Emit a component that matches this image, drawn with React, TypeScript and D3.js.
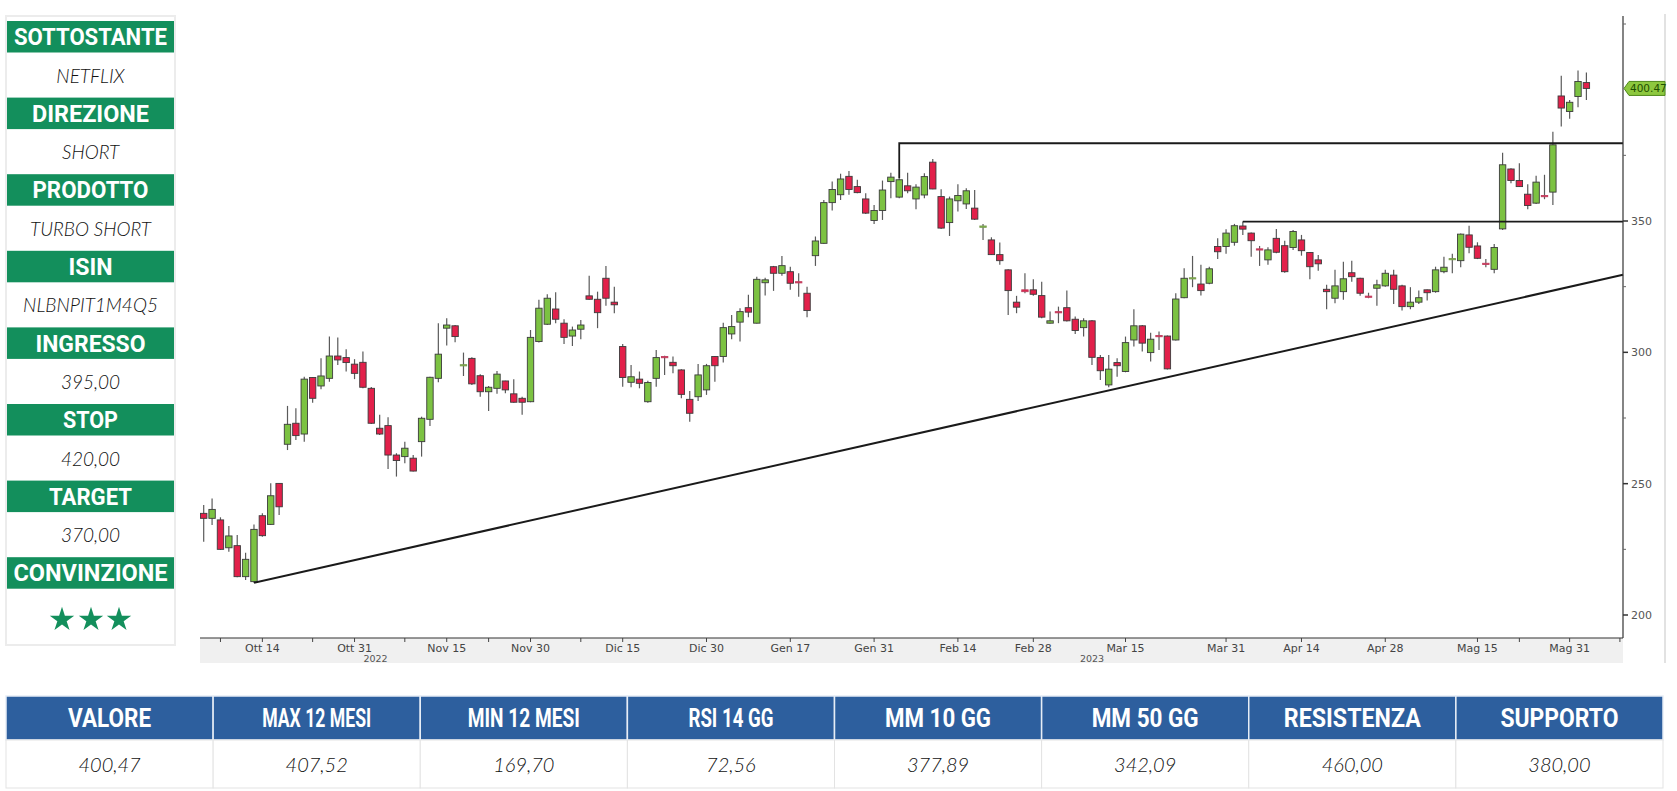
import React from 'react';
import * as d3 from 'd3';

// ---------- DATA ----------
const OPEN = [238.7,236.8,236.2,225.6,226.4,214.6,212.7,237.8,234.5,250.1,265.0,273.0,268.9,290.4,287.2,290.1,298.6,298.0,295.5,296.2,286.3,271.1,272.1,260.9,260.3,259.7,266.0,274.5,290.1,309.2,310.1,295.0,297.7,291.1,285.0,286.3,289.1,284.2,282.5,281.2,304.1,310.7,316.5,311.1,306.2,308.8,321.5,320.2,328.2,319.1,302.2,288.6,289.8,281.2,290.1,298.4,296.2,293.3,282.1,283.1,285.7,298.4,298.4,307.0,311.5,317.0,311.1,326.5,332.6,330.1,330.7,326.9,322.5,336.8,341.5,357.0,360.0,367.0,363.1,358.4,350.2,354.0,365.0,359.1,363.4,358.4,359.9,372.4,359.3,349.4,357.7,356.5,354.9,347.6,342.8,337.2,331.4,319.1,323.8,323.8,321.6,311.1,315.5,317.0,312.6,309.4,312.0,298.0,287.6,296.1,292.7,304.7,310.1,299.9,306.4,306.2,304.7,320.8,328.0,326.0,326.3,340.3,340.3,341.9,348.1,345.4,339.4,335.2,343.4,340.6,339.9,342.8,338.0,335.2,324.0,320.6,323.1,330.3,328.2,321.4,324.4,325.3,329.4,325.3,317.4,319.1,323.8,323.1,330.7,335.5,334.9,344.7,340.5,333.9,331.6,347.0,369.8,365.4,360.2,356.8,359.7,361.0,397.6,391.7,397.4,402.7];
const HIGH = [241.9,244.4,237.2,233.9,230.5,223.7,234.5,238.7,250.2,250.2,279.6,278.7,290.7,290.5,297.7,306.0,305.6,301.2,297.4,300.3,286.8,276.2,275.3,261.6,266.0,260.9,275.5,290.7,311.1,313.0,310.4,299.9,298.1,291.7,287.2,292.9,289.2,289.8,283.1,308.5,320.0,322.1,322.9,312.6,309.8,312.3,329.2,323.1,332.9,325.0,303.2,295.2,292.7,289.2,300.9,298.7,298.4,293.6,285.3,295.6,295.6,298.6,311.3,314.2,316.8,321.9,328.8,328.4,332.9,336.7,332.6,330.1,325.0,344.1,358.0,365.0,368.0,369.0,365.7,360.6,356.1,365.4,368.4,366.3,368.4,364.0,368.2,373.6,362.1,359.3,364.0,362.5,361.8,348.9,343.8,341.8,331.6,321.5,330.1,327.8,326.9,315.5,317.4,323.5,313.6,313.0,312.3,299.0,299.0,297.7,306.0,316.4,310.4,307.5,307.9,306.4,322.5,332.0,336.7,333.3,332.6,343.4,346.9,348.9,349.8,345.6,340.5,340.0,347.0,342.5,346.6,344.7,338.2,337.1,325.7,331.4,334.5,334.9,328.4,322.7,327.6,331.4,331.4,325.7,324.8,323.5,323.9,332.6,336.4,337.5,345.2,348.2,341.9,335.5,341.2,376.0,370.1,372.0,364.0,367.2,367.6,384.0,405.3,396.1,407.3,406.5];
const LOW = [227.9,234.3,224.8,224.1,214.4,213.3,212.3,229.8,234.3,238.1,262.8,266.6,266.0,280.8,285.9,288.8,295.2,292.7,289.8,286.3,272.7,268.5,255.6,252.7,257.8,254.6,260.3,272.0,288.6,302.6,303.8,291.0,287.6,283.1,277.7,284.2,284.4,280.8,276.2,281.0,303.7,310.4,311.1,303.2,302.4,305.0,320.0,309.2,317.7,314.9,286.9,286.7,286.3,280.8,286.9,291.4,292.0,282.5,273.6,281.5,283.8,288.8,296.1,305.0,304.1,313.4,311.0,321.6,323.4,329.2,323.8,321.2,313.4,332.9,341.3,354.0,358.0,360.0,360.6,352.7,348.9,350.4,358.7,358.7,360.6,354.5,358.7,362.1,347.0,344.3,353.6,354.6,350.4,342.8,337.1,333.3,314.2,314.9,322.5,321.5,313.0,311.0,311.1,311.7,307.0,306.0,295.2,289.5,286.7,290.7,292.4,302.2,300.3,296.5,300.9,293.5,304.5,320.6,324.8,321.6,325.9,335.5,337.5,340.6,344.7,336.4,332.9,333.3,337.7,330.3,339.0,336.8,327.8,331.1,316.4,318.7,320.0,326.9,321.5,320.6,317.7,325.0,318.4,315.9,316.4,318.4,319.7,322.7,330.1,330.1,332.4,337.7,335.5,332.4,330.1,346.6,364.4,362.9,354.5,356.5,358.3,356.1,386.0,388.9,393.3,396.1];
const CLOSE = [236.8,240.2,225.0,230.1,214.6,221.2,232.6,230.2,245.4,241.2,272.6,268.3,289.8,282.5,291.0,298.6,297.1,296.1,292.0,286.7,273.0,268.9,260.9,258.8,263.5,254.8,274.9,290.5,299.3,310.4,306.0,295.3,288.0,285.0,286.7,291.7,285.7,281.0,281.0,305.7,316.8,320.6,312.6,305.7,308.5,310.4,320.2,315.1,320.6,318.1,290.4,290.7,288.2,288.5,298.0,298.1,294.9,284.0,276.8,291.4,294.9,294.9,309.4,309.8,315.5,315.3,327.8,327.6,330.1,333.0,326.3,326.5,315.9,342.4,357.0,362.0,366.0,362.0,360.8,353.0,354.0,361.8,366.7,365.7,361.5,362.9,366.9,362.2,347.3,358.4,359.7,361.5,350.7,348.1,337.2,334.9,323.5,317.2,323.1,322.1,313.4,312.0,315.3,312.0,308.3,312.0,298.1,293.0,293.6,294.9,303.7,310.1,303.5,305.0,306.0,293.7,320.3,328.2,328.4,323.5,331.8,338.3,345.4,348.2,346.9,342.5,339.1,339.0,338.1,330.7,346.0,338.7,332.6,333.7,323.1,325.3,328.0,328.8,322.5,321.1,325.7,330.1,324.0,317.4,319.1,320.8,322.7,331.4,332.4,335.7,345.0,340.0,335.8,333.8,339.9,371.4,365.4,363.1,355.9,364.8,359.3,379.0,393.0,395.2,403.1,400.47];

const X_TICK_LABELS = ['Ott 14','Ott 31','Nov 15','Nov 30','Dic 15','Dic 30','Gen 17','Gen 31','Feb 14','Feb 28','Mar 15','Mar 31','Apr 14','Apr 28','Mag 15','Mag 31'];
const X_TICK_INDEX = [7,18,29,39,50,60,70,80,90,99,110,122,131,141,152,163];
const X_MINOR_INDEX = [2,13,24,34,45,157,169];
const YEAR_LABELS = ['2022','2023'];
const YEAR_INDEX = [20.5,106];
const Y_MAJOR = [200,250,300,350];
const Y_MINOR = [225,275,325,375,425];
const LAST_PRICE = 400.47;

// analyst lines: [start index, start price, end price]
const TREND = [6, 212.3, 329.5];
const RESIST_UPPER = [83, 379.6, 366.3];
const RESIST_LOWER = [124, 349.8];

const PANEL_LABELS = ['SOTTOSTANTE','DIREZIONE','PRODOTTO','ISIN','INGRESSO','STOP','TARGET','CONVINZIONE'];
const PANEL_VALUES = ['NETFLIX','SHORT','TURBO SHORT','NLBNPIT1M4Q5','395,00','420,00','370,00','★★★'];
const PANEL_LABEL_WIDTHS = [153,117,116,44,110,55,83,154];

const TABLE_HEADERS = ['VALORE','MAX 12 MESI','MIN 12 MESI','RSI 14 GG','MM 10 GG','MM 50 GG','RESISTENZA','SUPPORTO'];
const TABLE_VALUES = ['400,47','407,52','169,70','72,56','377,89','342,09','460,00','380,00'];
const TABLE_HEADER_WIDTHS = [83,109,112,85,106,107,137,118];

// ---------- STYLE ----------
const GREEN_HDR = '#138f5c';
const BLUE_HDR = '#2d5f9e';
const UP = '#7cc242';
const DOWN = '#e2204a';

export default function App() {
  const W = 1677, H = 791;
  const plotL = 200, plotR = 1623, plotT = 16, plotB = 638;
  const x = d3.scaleLinear().domain([0, 165]).range([203.7, 1586.4]);
  const y = d3.scaleLinear().domain([200, 350]).range([615, 221]);
  const bw = 6.4;

  const candles = CLOSE.map((c, i) => ({ o: OPEN[i], h: HIGH[i], l: LOW[i], c }));

  const line = d3.line();

  // left panel geometry
  const panelTop = 21, period = 76.6, hdrH = 31.5;

  const colW = (1663 - 6) / 8;
  const axisFont = "'DejaVu Sans', Verdana, sans-serif";

  return (
    <svg width={W} height={H} style={{ position: 'absolute', left: 0, top: 0, background: '#fff' }}
      fontFamily="Roboto, 'DejaVu Sans', sans-serif">
      {/* ---------- LEFT PANEL ---------- */}
      <rect x={6} y={16} width={169} height={629} fill="#fff" stroke="#ececec" strokeWidth={2} />
      {PANEL_LABELS.map((lab, k) => {
        const top = panelTop + k * period;
        const vc = top + hdrH + 23;
        return (
          <g key={lab}>
            <rect x={7} y={top} width={167} height={hdrH} fill={GREEN_HDR} />
            <text x={90.5} y={top + hdrH / 2 + 8.5} textAnchor="middle" fill="#fff" fontWeight={700}
              fontSize={24} textLength={PANEL_LABEL_WIDTHS[k]} lengthAdjust="spacingAndGlyphs">{lab}</text>
            {k < 7 && (
              <text x={90.5} y={vc + 7} textAnchor="middle" fill="#111" fontStyle="italic" fontWeight={300}
                fontSize={19} fontFamily="Lato, 'Open Sans', sans-serif">{PANEL_VALUES[k]}</text>
            )}
            {k === 7 && [62, 91, 119].map((sx) => (
              <path key={sx} d={d3.symbol().type(d3.symbolStar).size(185)() as string}
                transform={`translate(${sx},${vc + 8})`} fill={GREEN_HDR} />
            ))}
          </g>
        );
      })}

      {/* ---------- CHART ---------- */}
      <rect x={plotL} y={plotB} width={plotR - plotL} height={25} fill="#f0f0f0" />
      <line x1={1665} x2={1665} y1={14} y2={663} stroke="#d8d8d8" strokeWidth={1.5} />

      {/* candles */}
      {candles.map((d, i) => {
        const up = d.c >= d.o;
        const cx = x(i);
        const yt = y(Math.max(d.o, d.c));
        const yb = y(Math.min(d.o, d.c));
        const bh = Math.max(1.2, yb - yt);
        return (
          <g key={i}>
            <line x1={cx} x2={cx} y1={y(d.h)} y2={y(d.l)} stroke="#5a5a5a" strokeWidth={1.2} />
            <rect x={cx - bw / 2} y={yt} width={bw} height={bh}
              fill={up ? UP : DOWN} stroke={bh < 2 ? (up ? '#7a9a50' : '#c04060') : '#3b3b3b'} strokeWidth={0.9} />
          </g>
        );
      })}

      {/* analyst lines */}
      <path d={line([[x(TREND[0]), y(TREND[1])], [plotR, y(TREND[2])]]) as string} stroke="#1a1a1a" strokeWidth={2} fill="none" />
      <path d={line([[x(RESIST_UPPER[0]), y(RESIST_UPPER[2])], [x(RESIST_UPPER[0]), y(RESIST_UPPER[1])], [plotR, y(RESIST_UPPER[1])]]) as string}
        stroke="#1a1a1a" strokeWidth={1.8} fill="none" />
      <path d={line([[x(RESIST_LOWER[0]), y(RESIST_LOWER[1])], [plotR, y(RESIST_LOWER[1])]]) as string}
        stroke="#1a1a1a" strokeWidth={1.8} fill="none" />

      {/* y axis */}
      <line x1={plotR} x2={plotR} y1={plotT} y2={plotB} stroke="#333" strokeWidth={1.2} />
      <line x1={plotL} x2={plotR} y1={plotB} y2={plotB} stroke="#333" strokeWidth={1.2} />
      {Y_MAJOR.map((v) => (
        <g key={v}>
          <line x1={plotR} x2={plotR + 5} y1={y(v)} y2={y(v)} stroke="#333" strokeWidth={1.5} />
          <text x={plotR + 8} y={y(v) + 4} fontSize={11} fill="#555" fontFamily={axisFont}>{v}</text>
        </g>
      ))}
      {Y_MINOR.map((v) => (
        <line key={v} x1={plotR} x2={plotR + 3} y1={y(v)} y2={y(v)} stroke="#666" strokeWidth={1} />
      ))}
      {/* last price tag */}
      <path d={line([[plotR + 1, y(LAST_PRICE)], [plotR + 6, y(LAST_PRICE) - 7], [1665, y(LAST_PRICE) - 7], [1665, y(LAST_PRICE) + 7], [plotR + 6, y(LAST_PRICE) + 7]]) + 'Z'}
        fill="#8dc83f" stroke="#4f8a1c" strokeWidth={1} />
      <text x={plotR + 7} y={y(LAST_PRICE) + 4} fontSize={10.5} fill="#1f4f00" fontFamily={axisFont}>{LAST_PRICE.toFixed(2)}</text>

      {/* x axis */}
      {X_MINOR_INDEX.map((ti) => (
        <line key={'m' + ti} x1={x(ti)} x2={x(ti)} y1={plotB} y2={plotB + 4} stroke="#444" strokeWidth={1} />
      ))}
      {X_TICK_INDEX.map((ti, k) => (
        <g key={k}>
          <line x1={x(ti)} x2={x(ti)} y1={plotB} y2={plotB + 4} stroke="#444" strokeWidth={1} />
          <text x={x(ti)} y={plotB + 14} textAnchor="middle" fontSize={11} fill="#444" fontFamily={axisFont}>{X_TICK_LABELS[k]}</text>
        </g>
      ))}
      {YEAR_LABELS.map((yl, k) => (
        <text key={yl} x={x(YEAR_INDEX[k])} y={plotB + 24} textAnchor="middle" fontSize={9.5} fill="#555" fontFamily={axisFont}>{yl}</text>
      ))}

      {/* ---------- BOTTOM TABLE ---------- */}
      {TABLE_HEADERS.map((h, k) => {
        const cx0 = 6 + k * colW;
        return (
          <g key={h}>
            <rect x={cx0} y={696} width={colW} height={44} fill={BLUE_HDR} stroke="#e6edf6" strokeWidth={1.5} />
            <rect x={cx0} y={740} width={colW} height={48} fill="#fff" stroke="#e3e3e3" strokeWidth={1} />
            <text x={cx0 + colW / 2} y={727} textAnchor="middle" fill="#fff" fontWeight={700} fontSize={26}
              textLength={TABLE_HEADER_WIDTHS[k]} lengthAdjust="spacingAndGlyphs">{h}</text>
            <text x={cx0 + colW / 2} y={772} textAnchor="middle" fill="#111" fontStyle="italic" fontWeight={300}
              fontSize={20} fontFamily="Lato, 'Open Sans', sans-serif">{TABLE_VALUES[k]}</text>
          </g>
        );
      })}
    </svg>
  );
}
